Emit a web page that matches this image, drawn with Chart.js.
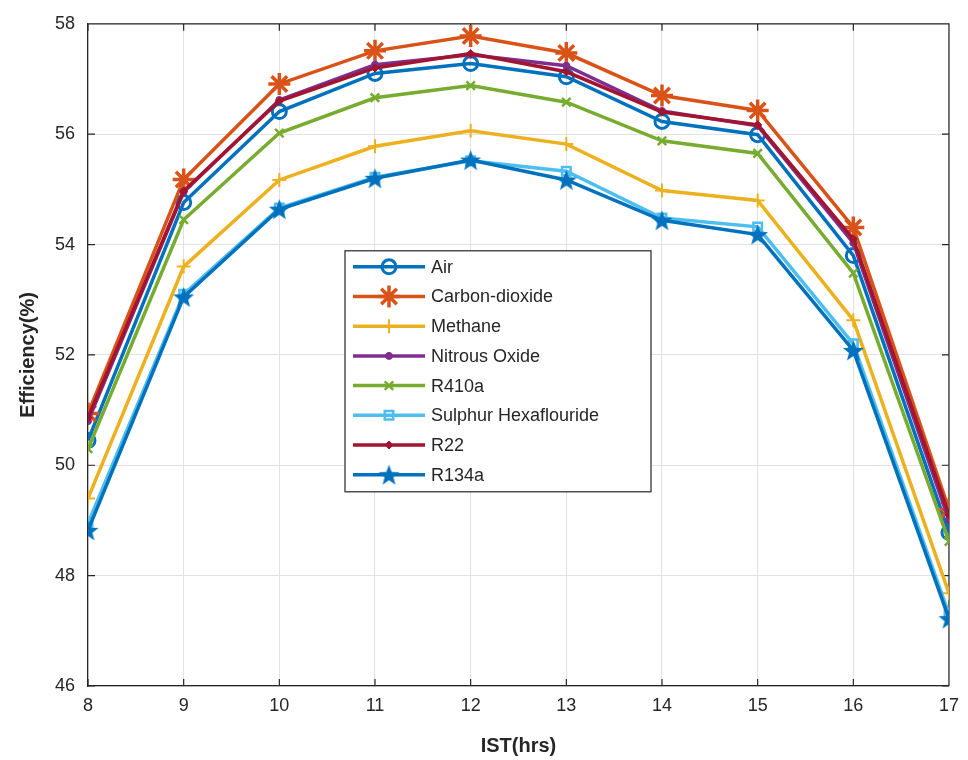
<!DOCTYPE html>
<html>
<head>
<meta charset="utf-8">
<script src="https://cdn.jsdelivr.net/npm/chart.js@4.4.0/dist/chart.umd.min.js"></script>
<style>
    html, body { margin: 0; padding: 0; background: #fff; }
    #container-canvas { width: 968px; height: 760px; }
</style>
</head>
<body>
<div id="container-canvas"><canvas id="myChart"></canvas></div>
<script>
const hours = [8, 9, 10, 11, 12, 13, 14, 15, 16, 17]
const air = [50.45, 54.76, 56.41, 57.10, 57.28, 57.04, 56.23, 55.99, 53.80, 48.78]
const carbonDioxide = [50.94, 55.18, 56.91, 57.51, 57.78, 57.47, 56.70, 56.43, 54.31, 49.20]
const methane = [49.40, 53.60, 55.17, 55.78, 56.06, 55.82, 54.98, 54.80, 52.63, 47.68]
const nitrousOxide = [50.80, 54.95, 56.62, 57.26, 57.44, 57.24, 56.42, 56.15, 54.03, 49.00]
const r410a = [50.30, 54.45, 56.02, 56.66, 56.88, 56.58, 55.88, 55.65, 53.48, 48.62]
const sulphurHex = [48.95, 53.10, 54.66, 55.22, 55.52, 55.33, 54.48, 54.32, 52.20, 47.30]
const r22 = [50.86, 54.97, 56.60, 57.20, 57.46, 57.13, 56.40, 56.17, 54.10, 49.10]
const r134a = [48.82, 53.05, 54.64, 55.20, 55.53, 55.17, 54.44, 54.18, 52.08, 47.22]
const yTicks = [46, 48, 50, 52, 54, 56, 58]

const FONT = "'Liberation Sans', Arial, sans-serif"
const AXIS = '#262626'

// filled five-point star, like matlab 'p'
function makePentagram(size, color) {
    const c = document.createElement('canvas')
    c.width = size
    c.height = size
    const g = c.getContext('2d')
    const cx = size / 2, cy = size / 2 + 1, R = size / 2 - 0.5, r = R * 0.42
    g.beginPath()
    for (let i = 0; i < 10; i++) {
        const ang = -Math.PI / 2 + i * Math.PI / 5
        const rad = i % 2 === 0 ? R : r
        g.lineTo(cx + rad * Math.cos(ang), cy + rad * Math.sin(ang))
    }
    g.closePath()
    g.fillStyle = color
    g.fill()
    return c
}

const series = [
    { label: 'Air', data: air, color: '#0072BD', style: 'circle', radius: 7, bw: 3, fill: 'rgba(0,0,0,0)' },
    { label: 'Carbon-dioxide', data: carbonDioxide, color: '#D95319', style: 'star', radius: 11, bw: 3.5, fill: '#D95319' },
    { label: 'Methane', data: methane, color: '#EDB120', style: 'cross', radius: 7, bw: 2, fill: '#EDB120' },
    { label: 'Nitrous Oxide', data: nitrousOxide, color: '#7E2F8E', style: 'circle', radius: 3.5, bw: 1, fill: '#7E2F8E' },
    { label: 'R410a', data: r410a, color: '#77AC30', style: 'crossRot', radius: 6, bw: 2.5, fill: '#77AC30' },
    { label: 'Sulphur Hexaflouride', data: sulphurHex, color: '#4DBEEE', style: 'rect', radius: 6, bw: 2.5, fill: 'rgba(0,0,0,0)' },
    { label: 'R22', data: r22, color: '#A2142F', style: 'rectRot', radius: 4, bw: 1, fill: '#A2142F' },
    { label: 'R134a', data: r134a, color: '#0072BD', style: makePentagram(23, '#0072BD'), radius: 10, bw: 1, fill: '#0072BD' }
]

const datasets = series.map((s, i) => ({
    label: s.label,
    data: hours.map((h, k) => ({ x: h, y: s.data[k] })),
    borderColor: s.color,
    backgroundColor: s.fill,
    borderWidth: 3.5,
    pointStyle: s.style,
    pointRadius: s.radius,
    pointBorderWidth: s.bw,
    pointBorderColor: s.color,
    pointBackgroundColor: s.fill,
    tension: 0,
    order: series.length - 1 - i
}))

// matlab style box, inward ticks and the legend in the middle of the axes
const matlabPlugin = {
    id: 'matlabBox',
    beforeDatasetsDraw(chart) {
        const { ctx, chartArea: a, scales } = chart
        ctx.save()
        ctx.strokeStyle = AXIS
        ctx.lineWidth = 1.2
        ctx.beginPath()
        ctx.moveTo(a.left, a.top)
        ctx.lineTo(a.right, a.top)
        ctx.lineTo(a.right, a.bottom)
        const t = 7
        hours.forEach(h => {
            const x = scales.x.getPixelForValue(h)
            ctx.moveTo(x, a.bottom)
            ctx.lineTo(x, a.bottom - t)
            ctx.moveTo(x, a.top)
            ctx.lineTo(x, a.top + t)
        })
        yTicks.forEach(v => {
            const y = scales.y.getPixelForValue(v)
            ctx.moveTo(a.left, y)
            ctx.lineTo(a.left + t, y)
            ctx.moveTo(a.right, y)
            ctx.lineTo(a.right - t, y)
        })
        ctx.stroke()
        ctx.restore()
    },
    afterDraw(chart) {
        const { ctx, chartArea: a } = chart
        const bx = a.left + 257, by = a.top + 227, bw = 306, bh = 241
        ctx.save()
        ctx.fillStyle = '#fff'
        ctx.fillRect(bx, by, bw, bh)
        ctx.strokeStyle = AXIS
        ctx.lineWidth = 1.2
        ctx.strokeRect(bx, by, bw, bh)
        ctx.font = `18px ${FONT}`
        ctx.textBaseline = 'middle'
        series.forEach((s, i) => {
            const y = by + 16 + i * 29.7
            ctx.strokeStyle = s.color
            ctx.lineWidth = 3.5
            ctx.beginPath()
            ctx.moveTo(bx + 8, y)
            ctx.lineTo(bx + 80, y)
            ctx.stroke()
            ctx.fillStyle = s.fill
            ctx.strokeStyle = s.color
            ctx.lineWidth = s.bw
            Chart.helpers.drawPoint(ctx, { pointStyle: s.style, radius: s.radius, rotation: 0, borderWidth: s.bw }, bx + 44, y)
            ctx.fillStyle = AXIS
            ctx.fillText(s.label, bx + 86, y + 1)
        })
        ctx.restore()
    }
}

const ctx = document.getElementById('myChart')
new Chart(ctx, {
    type: 'line',
    data: { datasets: datasets },
    plugins: [matlabPlugin],
    options: {
        responsive: true,
        maintainAspectRatio: false,
        animation: false,
        layout: { padding: { top: 20, right: 14, bottom: 0, left: 0 } },
        plugins: {
            legend: { display: false },
            tooltip: { enabled: false }
        },
        scales: {
            x: {
                type: 'linear',
                min: 8,
                max: 17,
                afterFit: s => { s.height = 74 },
                afterBuildTicks: s => { s.ticks = hours.map(v => ({ value: v })) },
                ticks: { color: AXIS, font: { family: FONT, size: 18 }, padding: 9, maxRotation: 0 },
                grid: { color: '#e2e2e2', drawTicks: false },
                border: { color: AXIS, width: 1.2 },
                title: { display: true, text: 'IST(hrs)', color: AXIS, font: { family: FONT, size: 20, weight: 'bold' }, padding: { top: 0, bottom: 2 } }
            },
            y: {
                min: 46,
                max: 58,
                afterFit: s => { s.width = 88 },
                afterBuildTicks: s => { s.ticks = yTicks.map(v => ({ value: v })) },
                ticks: { color: AXIS, font: { family: FONT, size: 18 }, padding: 13 },
                grid: { color: '#e2e2e2', drawTicks: false },
                border: { color: AXIS, width: 1.2 },
                title: { display: true, text: 'Efficiency(%)', color: AXIS, font: { family: FONT, size: 20, weight: 'bold' }, padding: { top: 16, bottom: 0 } }
            }
        }
    }
})
</script>
</body>
</html>
